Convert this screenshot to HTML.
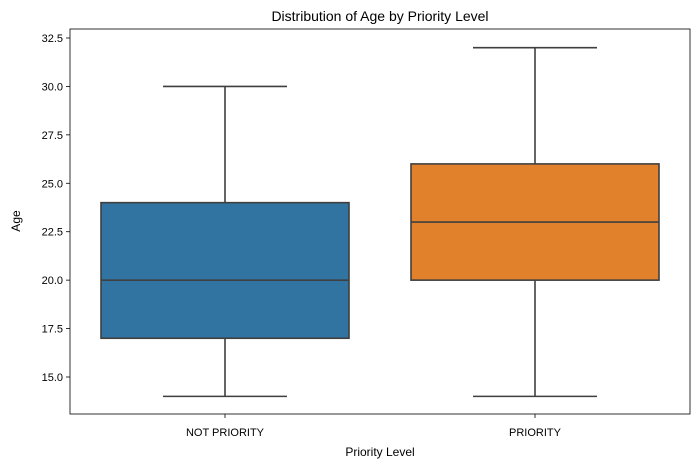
<!DOCTYPE html>
<html><head><meta charset="utf-8"><style>
body{margin:0;background:#fff;font-family:"Liberation Sans","DejaVu Sans",sans-serif;}
svg text{font-family:"Liberation Sans","DejaVu Sans",sans-serif;fill:#000;}
</style></head><body>
<svg id="chart" width="700" height="468" xmlns="http://www.w3.org/2000/svg">
<text x="380" y="21" font-size="14" text-anchor="middle">Distribution of Age by Priority Level</text>
<text x="380" y="456" font-size="12" text-anchor="middle">Priority Level</text>
<text x="20" y="221" font-size="12" text-anchor="middle" transform="rotate(-90 20 221)">Age</text>
<g id="marks"></g>
<rect x="70" y="29" width="620" height="385" fill="none" stroke="#000" stroke-width="0.8"/>
</svg>
<script>
const categories = ["NOT PRIORITY", "PRIORITY"];
const mins = [14, 14];
const q1s = [17, 20];
const medians = [20, 23];
const q3s = [24, 26];
const maxs = [30, 32];
const colors = ["#3274a1", "#e1812c"];
const yTicks = [15.0, 17.5, 20.0, 22.5, 25.0, 27.5, 30.0, 32.5];

const L=70,R=690,T=29,B=414;
function y(v){return 377-(v-15)*(339/17.5);}
function xc(i){return L+(i+0.5)*(R-L)/categories.length;}
const bw=0.8*(R-L)/categories.length;
const ns="http://www.w3.org/2000/svg";
const g=document.getElementById('marks');
function mk(tag,attrs){const e=document.createElementNS(ns,tag);for(const k in attrs)e.setAttribute(k,attrs[k]);g.appendChild(e);return e;}

yTicks.forEach(t=>{
  const l=mk('line',{x1:L-4,x2:L,y1:y(t),y2:y(t),stroke:'#000','stroke-width':0.8});
  
  
  const tx=mk('text',{x:L-7,y:y(t)+4,'font-size':11,'text-anchor':'end'});
  tx.textContent=t.toFixed(1);
  
  
});
categories.forEach((c,i)=>{
  const x=xc(i);
  const tk=mk('line',{x1:x,x2:x,y1:B,y2:B+4,stroke:'#000','stroke-width':0.8});
  
  
  const tx=mk('text',{x:x,y:B+22,'font-size':11,'text-anchor':'middle'});
  tx.textContent=c;
  
  
  const s={stroke:'#3f3f3f','stroke-width':1.6};
  const w1=mk('line',Object.assign({x1:x,x2:x,y1:y(mins[i]),y2:y(q1s[i])},s));
  
  
  const w2=mk('line',Object.assign({x1:x,x2:x,y1:y(q3s[i]),y2:y(maxs[i])},s));
  
  
  const c1=mk('line',Object.assign({x1:x-bw/4,x2:x+bw/4,y1:y(mins[i]),y2:y(mins[i])},s));
  
  
  const c2=mk('line',Object.assign({x1:x-bw/4,x2:x+bw/4,y1:y(maxs[i]),y2:y(maxs[i])},s));
  
  
  const bx=mk('rect',Object.assign({x:x-bw/2,y:y(q3s[i]),width:bw,height:y(q1s[i])-y(q3s[i]),fill:colors[i]},s));
  
  
  const md=mk('line',Object.assign({x1:x-bw/2,x2:x+bw/2,y1:y(medians[i]),y2:y(medians[i])},s));
  
  
});
</script>
</body></html>
